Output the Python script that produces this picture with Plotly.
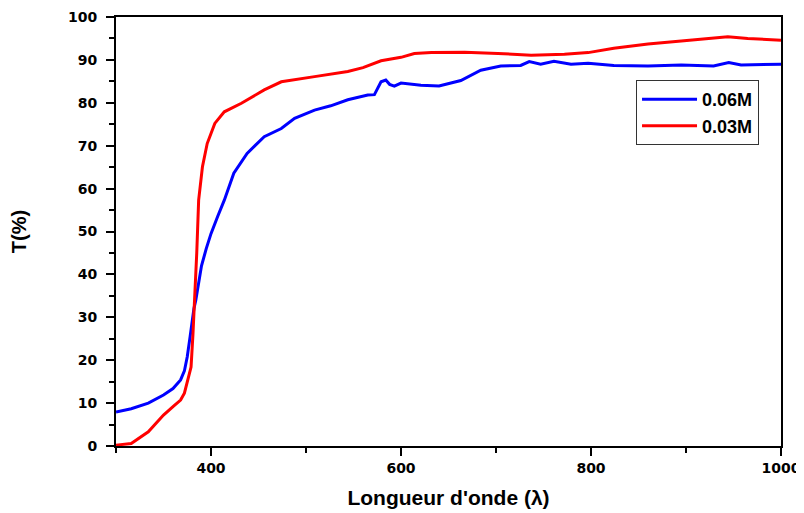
import plotly.graph_objects as go

# 0.06M (blue)
wl_006 = [300, 316, 334, 350, 360, 368, 372, 375, 378, 380, 382, 384, 387, 390, 395, 400,
          407, 414, 424, 438, 456, 474, 488, 509, 526, 544, 565, 572, 579, 584, 588, 593,
          600, 621, 640, 663, 684, 705, 726, 735, 747, 761, 779, 797, 824, 860, 895, 929,
          945, 958, 1000]
t_006 = [7.9, 8.7, 10.0, 11.9, 13.4, 15.4, 17.5, 20.8, 25.5, 29.4, 32.0, 34.0, 38.0, 42.0,
         46.0, 49.5, 53.5, 57.3, 63.6, 68.2, 72.1, 74.0, 76.4, 78.3, 79.3, 80.7, 81.8, 81.9,
         84.9, 85.3, 84.3, 83.9, 84.6, 84.1, 83.9, 85.2, 87.6, 88.6, 88.7, 89.6, 89.0, 89.7,
         89.0, 89.2, 88.7, 88.6, 88.8, 88.6, 89.4, 88.8, 89.0]

# 0.03M (red)
wl_003 = [300, 316, 334, 350, 360, 368, 372, 375, 379, 381, 383, 385, 387, 391, 396, 404,
          414, 432, 456, 474, 509, 544, 560, 579, 600, 614, 632, 667, 702, 737, 772, 797,
          824, 860, 895, 930, 944, 965, 1000]
t_003 = [0.2, 0.6, 3.3, 7.2, 9.2, 10.7, 12.3, 14.7, 18.4, 26.0, 34.0, 45.0, 57.3, 65.1,
         70.5, 75.2, 77.9, 79.9, 83.0, 84.9, 86.1, 87.3, 88.2, 89.8, 90.6, 91.5, 91.7,
         91.8, 91.5, 91.1, 91.3, 91.7, 92.7, 93.7, 94.4, 95.2, 95.4, 95.0, 94.6]

x_ticks = [400, 600, 800, 1000]
y_ticks = list(range(0, 101, 10))

fig = go.Figure()
fig.add_trace(go.Scatter(x=wl_006, y=t_006, mode="lines", name="<b>0.06M</b>",
                         line=dict(color="#0000ff", width=3)))
fig.add_trace(go.Scatter(x=wl_003, y=t_003, mode="lines", name="<b>0.03M</b>",
                         line=dict(color="#ff0000", width=3)))

title_font = "Liberation Sans"
tick_font = "DejaVu Sans"
# page body has an 8px margin, so the figure is sized to fit the 804x513 window
fig.update_layout(
    width=796, height=505,
    margin=dict(l=108, r=23, t=9, b=67, autoexpand=False),
    paper_bgcolor="white", plot_bgcolor="white",
    font=dict(family=title_font, color="black"),
    showlegend=True,
    legend=dict(x=0.782, y=0.853, xanchor="left", yanchor="top",
                bordercolor="#333333", borderwidth=1, bgcolor="white",
                font=dict(size=18, family=title_font, color="black"),
                tracegroupgap=0, itemwidth=55),
    xaxis=dict(range=[300, 1000], tickmode="array", tickvals=x_ticks,
               ticktext=["<b>%d</b>" % v for v in x_ticks],
               ticks="outside", ticklen=8, tickwidth=2, tickcolor="black",
               minor=dict(dtick=100, tick0=300, ticks="outside", ticklen=5, tickwidth=2, tickcolor="black"),
               showline=True, linewidth=2, linecolor="black", mirror=True,
               showgrid=False, zeroline=False, automargin=False,
               tickfont=dict(size=14, family=tick_font),
               title=dict(text="<b>Longueur d'onde (λ)</b>", font=dict(size=21, family=title_font), standoff=16)),
    yaxis=dict(range=[0, 100], tickmode="array", tickvals=y_ticks,
               ticktext=["<b>%d</b>" % v for v in y_ticks],
               ticks="outside", ticklen=8, tickwidth=2, tickcolor="black",
               minor=dict(dtick=5, tick0=0, ticks="outside", ticklen=5, tickwidth=2, tickcolor="black"),
               showline=True, linewidth=2, linecolor="black", mirror=True,
               showgrid=False, zeroline=False, automargin=False,
               ticklabelstandoff=6,
               tickfont=dict(size=14, family=tick_font),
               title=dict(text="<b>T(%)</b>", font=dict(size=20, family=title_font), standoff=36)),
)

fig.write_html("out.html")
